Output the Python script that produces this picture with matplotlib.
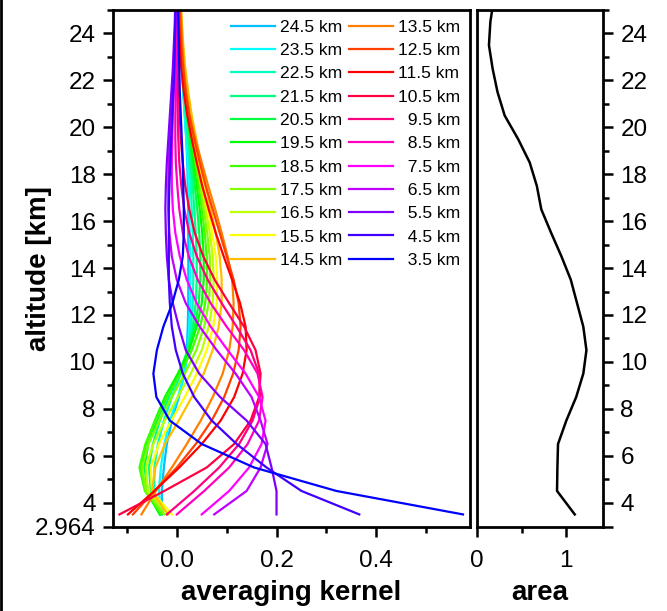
import matplotlib
matplotlib.use('Agg')
import matplotlib.pyplot as plt
from matplotlib.lines import Line2D

plt.rcParams['font.family'] = ['Liberation Sans', 'DejaVu Sans']

# altitude grid of the kernels [km]
alt = [3.5, 4.5, 5.5, 6.5, 7.5, 8.5, 9.5, 10.5, 11.5, 12.5, 13.5, 14.5,
       15.5, 16.5, 17.5, 18.5, 19.5, 20.5, 21.5, 22.5, 23.5, 24.5, 25.5]

# averaging kernel rows, one per retrieval altitude
k24_5 = [-0.030, -0.030, -0.026, -0.020, -0.010, 0.004, 0.015, 0.020, 0.022, 0.023, 0.023, 0.023,
         0.023, 0.023, 0.022, 0.021, 0.019, 0.016, 0.013, 0.010, 0.008, 0.006, 0.005]
k23_5 = [-0.032, -0.036, -0.032, -0.025, -0.014, 0.002, 0.016, 0.022, 0.025, 0.027, 0.027, 0.027,
         0.026, 0.025, 0.024, 0.022, 0.019, 0.016, 0.013, 0.010, 0.008, 0.006, 0.005]
k22_5 = [-0.033, -0.045, -0.045, -0.038, -0.026, -0.010, 0.008, 0.021, 0.028, 0.032, 0.033, 0.033,
         0.032, 0.030, 0.028, 0.025, 0.021, 0.017, 0.014, 0.011, 0.008, 0.006, 0.005]
k21_5 = [-0.033, -0.052, -0.056, -0.048, -0.034, -0.016, 0.005, 0.022, 0.032, 0.038, 0.040, 0.040,
         0.038, 0.035, 0.032, 0.028, 0.024, 0.019, 0.015, 0.012, 0.009, 0.007, 0.005]
k20_5 = [-0.034, -0.058, -0.065, -0.057, -0.040, -0.020, 0.003, 0.023, 0.036, 0.044, 0.047, 0.047,
         0.045, 0.041, 0.036, 0.031, 0.026, 0.021, 0.016, 0.012, 0.009, 0.007, 0.005]
k19_5 = [-0.034, -0.062, -0.072, -0.062, -0.044, -0.024, 0.002, 0.025, 0.040, 0.050, 0.054, 0.054,
         0.051, 0.046, 0.040, 0.034, 0.028, 0.022, 0.017, 0.013, 0.010, 0.007, 0.005]
k18_5 = [-0.030, -0.064, -0.075, -0.063, -0.043, -0.020, 0.007, 0.030, 0.047, 0.057, 0.061, 0.060,
         0.056, 0.050, 0.044, 0.037, 0.030, 0.024, 0.018, 0.013, 0.010, 0.007, 0.005]
k17_5 = [-0.025, -0.062, -0.070, -0.057, -0.035, -0.010, 0.016, 0.039, 0.055, 0.064, 0.067, 0.066,
         0.061, 0.054, 0.047, 0.039, 0.032, 0.025, 0.019, 0.014, 0.010, 0.007, 0.005]
k16_5 = [-0.018, -0.058, -0.062, -0.047, -0.024, 0.002, 0.028, 0.050, 0.064, 0.072, 0.074, 0.072,
         0.066, 0.058, 0.050, 0.042, 0.034, 0.026, 0.020, 0.015, 0.011, 0.008, 0.006]
k15_5 = [-0.010, -0.050, -0.052, -0.036, -0.011, 0.016, 0.040, 0.060, 0.073, 0.080, 0.081, 0.078,
         0.071, 0.062, 0.053, 0.044, 0.036, 0.028, 0.021, 0.016, 0.012, 0.009, 0.007]
k14_5 = [-0.018, -0.050, -0.043, -0.024, 0.004, 0.030, 0.054, 0.072, 0.084, 0.090, 0.090, 0.086,
         0.078, 0.068, 0.058, 0.048, 0.039, 0.030, 0.023, 0.017, 0.013, 0.010, 0.008]
k13_5 = [-0.071, -0.042, -0.010, 0.020, 0.048, 0.072, 0.092, 0.105, 0.112, 0.114, 0.111, 0.102,
         0.090, 0.077, 0.063, 0.050, 0.037, 0.026, 0.019, 0.014, 0.011, 0.009, 0.007]
k12_5 = [-0.088, -0.045, 0.000, 0.038, 0.070, 0.095, 0.113, 0.124, 0.128, 0.124, 0.114, 0.100,
         0.086, 0.072, 0.058, 0.046, 0.035, 0.025, 0.018, 0.013, 0.009, 0.007, 0.005]
k11_5 = [-0.098, -0.045, 0.005, 0.050, 0.088, 0.115, 0.132, 0.140, 0.138, 0.127, 0.111, 0.094,
         0.078, 0.064, 0.051, 0.040, 0.030, 0.021, 0.014, 0.009, 0.006, 0.004, 0.002]
k10_5 = [-0.115, -0.025, 0.060, 0.115, 0.148, 0.165, 0.168, 0.158, 0.135, 0.105, 0.076, 0.053,
         0.036, 0.025, 0.017, 0.012, 0.008, 0.006, 0.004, 0.003, 0.002, 0.001, 0.000]
k9_5 = [-0.020, 0.035, 0.085, 0.125, 0.152, 0.167, 0.165, 0.148, 0.120, 0.090, 0.062, 0.040,
        0.025, 0.015, 0.009, 0.005, 0.003, 0.002, 0.001, 0.001, 0.000, 0.000, 0.000]
k8_5 = [0.000, 0.055, 0.105, 0.142, 0.165, 0.172, 0.162, 0.135, 0.100, 0.068, 0.042, 0.024,
        0.012, 0.005, 0.001, -0.002, -0.003, -0.003, -0.002, -0.002, -0.001, -0.001, 0.000]
k7_5 = [0.050, 0.105, 0.145, 0.170, 0.178, 0.165, 0.138, 0.102, 0.068, 0.040, 0.020, 0.006,
        -0.003, -0.008, -0.010, -0.010, -0.009, -0.008, -0.006, -0.005, -0.004, -0.003, -0.002]
k6_5 = [0.075, 0.140, 0.168, 0.182, 0.168, 0.150, 0.118, 0.080, 0.046, 0.018, 0.000, -0.010,
        -0.015, -0.017, -0.017, -0.016, -0.014, -0.011, -0.008, -0.006, -0.004, -0.003, -0.002]
k5_5 = [0.200, 0.200, 0.190, 0.178, 0.140, 0.087, 0.045, 0.018, 0.004, -0.008, -0.016, -0.020,
        -0.022, -0.023, -0.022, -0.020, -0.017, -0.014, -0.011, -0.008, -0.006, -0.004, -0.003]
k4_5 = [0.366, 0.250, 0.180, 0.120, 0.070, 0.035, 0.012, -0.002, -0.010, -0.014, -0.016, -0.016,
        -0.016, -0.016, -0.015, -0.013, -0.011, -0.009, -0.007, -0.005, -0.004, -0.003, -0.002]
k3_5 = [0.574, 0.320, 0.155, 0.050, -0.014, -0.041, -0.047, -0.040, -0.027, -0.009, 0.004, 0.012,
        0.014, 0.014, 0.013, 0.012, 0.010, 0.008, 0.006, 0.005, 0.004, 0.003, 0.002]

kernels = [k24_5, k23_5, k22_5, k21_5, k20_5, k19_5, k18_5, k17_5, k16_5, k15_5, k14_5,
           k13_5, k12_5, k11_5, k10_5, k9_5, k8_5, k7_5, k6_5, k5_5, k4_5, k3_5]
labels = ['24.5 km', '23.5 km', '22.5 km', '21.5 km', '20.5 km', '19.5 km', '18.5 km',
          '17.5 km', '16.5 km', '15.5 km', '14.5 km', '13.5 km', '12.5 km', '11.5 km',
          '10.5 km', '\u20079.5 km', '\u20078.5 km', '\u20077.5 km', '\u20076.5 km',
          '\u20075.5 km', '\u20074.5 km', '\u20073.5 km']
colors = ['#00BFFF', '#00FFFF', '#00FFBF', '#00FF80', '#00FF40', '#00FF00', '#40FF00',
          '#80FF00', '#BFFF00', '#FFFF00', '#FFBF00', '#FF8000', '#FF4000', '#FF0000',
          '#FF0040', '#FF0080', '#FF00BF', '#FF00FF', '#BF00FF', '#8000FF', '#4000FF', '#0000FF']

# area of the kernels
area = [1.094, 0.896, 0.900, 0.907, 1.000, 1.110, 1.190, 1.225, 1.190, 1.120, 1.050, 0.945,
        0.830, 0.720, 0.670, 0.590, 0.460, 0.310, 0.230, 0.175, 0.134, 0.150, 0.190]

ytick_pos = [2.964, 4, 6, 8, 10, 12, 14, 16, 18, 20, 22, 24]
ytick_lab = ['2.964', '4', '6', '8', '10', '12', '14', '16', '18', '20', '22', '24']
ytick_minor = [5, 7, 9, 11, 13, 15, 17, 19, 21, 23, 25]


def style_axes(a):
    for s in a.spines.values():
        s.set_linewidth(2.0)
    a.tick_params(which='major', direction='out', length=7.5, width=1.8, labelsize=17.5, pad=5)
    a.tick_params(which='minor', direction='out', length=4.5, width=1.8)
    a.tick_params(axis='x', which='major', pad=9)
    a.set_ylim(2.964, 25)
    a.set_yticks(ytick_minor, minor=True)


fig = plt.figure(figsize=(6.67, 6.11), dpi=100)
ax = fig.add_axes([0.1694, 0.1375, 0.5352, 0.8462])
ax2 = fig.add_axes([0.7151, 0.1375, 0.1889, 0.8462])

for vals, lab, col in zip(kernels, labels, colors):
    ax.plot(vals, alt, color=col, lw=1.6, label=lab)

style_axes(ax)
ax.set_xlim(-0.128, 0.588)
ax.set_xticks([0.0, 0.2, 0.4])
ax.set_xticklabels(['0.0', '0.2', '0.4'])
ax.set_xticks([-0.1, 0.1, 0.3, 0.5], minor=True)
ax.set_yticks(ytick_pos)
ax.set_yticklabels(ytick_lab)
ax.tick_params(which='both', top=False, right=False)
ax.set_xlabel('averaging kernel', fontsize=20, fontweight='bold', labelpad=6)
ax.set_ylabel('altitude [km]', fontsize=20, fontweight='bold')
ax.yaxis.set_label_coords(-0.172, 0.5)

ax.legend(ncol=2, loc='upper right', frameon=False, fontsize=12.6, handlelength=2.5,
          handletextpad=0.3, columnspacing=0.35, labelspacing=0.46,
          borderaxespad=0.3, borderpad=0.25)

ax2.plot(area, alt, color='black', lw=1.8)
style_axes(ax2)
ax2.set_xlim(0, 1.41)
ax2.set_xticks([0, 1])
ax2.set_xticklabels(['0', '1'])
ax2.set_xticks([0.5], minor=True)
ax2.yaxis.tick_right()
ax2.set_yticks(ytick_pos)
ax2.set_yticklabels([''] + ytick_lab[1:])
ax2.tick_params(which='both', left=False, top=False)
ax2.set_xlabel('area', fontsize=20, fontweight='bold', labelpad=6)

fig.add_artist(Line2D([0.002, 0.002], [0, 1], transform=fig.transFigure, color='black', lw=2))

fig.savefig('out.png', dpi=100)
